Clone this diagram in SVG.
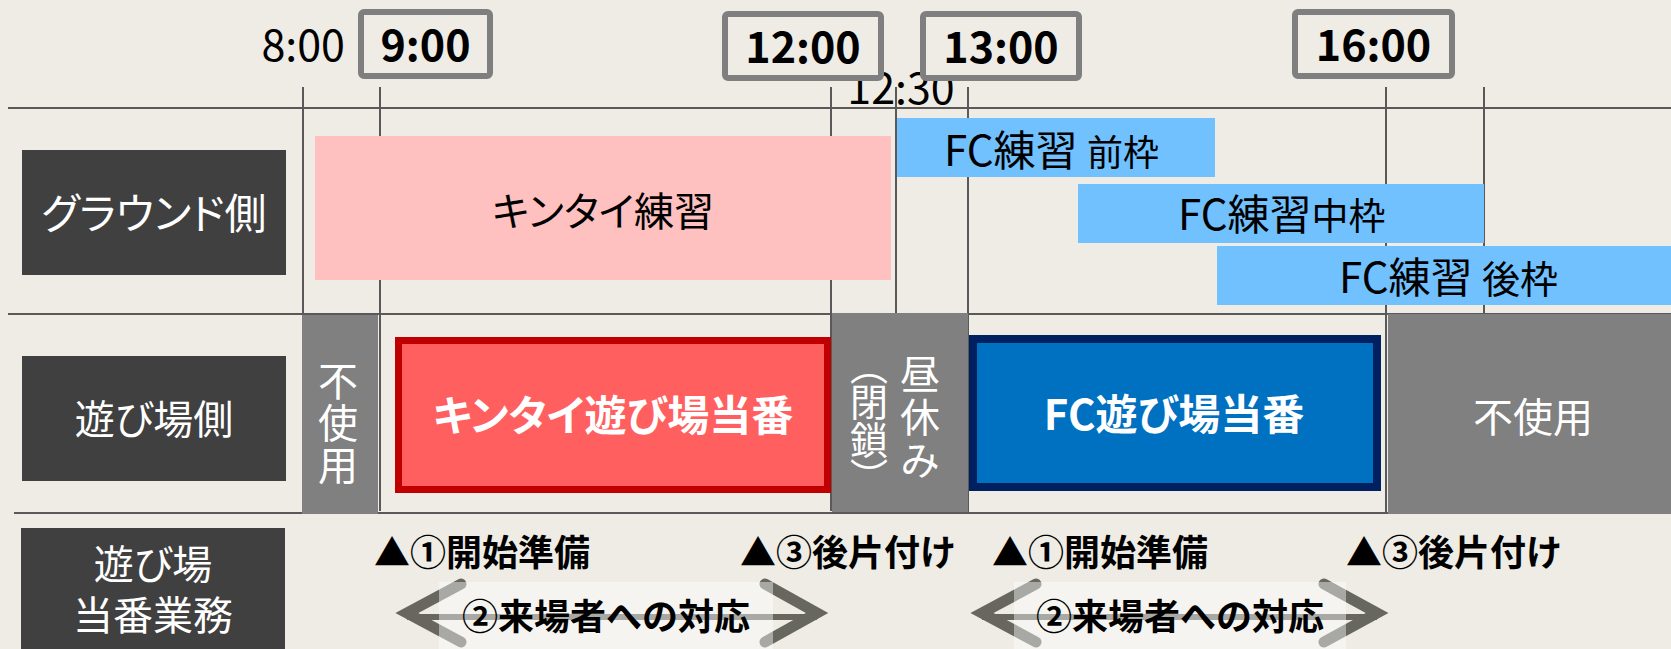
<svg xmlns="http://www.w3.org/2000/svg" width="1671" height="649" viewBox="0 0 1671 649">
<defs>
<style>
.t{font-family:"Noto Sans CJK JP","Noto Sans",sans-serif;}
.p{font-feature-settings:"palt";}
.v{writing-mode:vertical-rl;text-orientation:mixed;}
.vp{font-feature-settings:"vpal";}
.b{font-weight:700;}
.w{fill:#ffffff;}
.k{fill:#000000;}
.grid{stroke:#595959;stroke-width:2;fill:none;}
.tbox{fill:#EEECE4;stroke:#7F7F7F;stroke-width:6;}
.lab{fill:#404040;}
.gry{fill:#808080;}
.fc{fill:#71C1FF;}
.chev{fill:none;stroke:#676760;stroke-width:11;stroke-linecap:round;stroke-linejoin:miter;}
.shaft{stroke:#676760;stroke-width:6;}
.veil{fill:#ffffff;fill-opacity:0.43;}
</style>
</defs>
<rect x="0" y="0" width="1671" height="649" fill="#EEECE4"/>

<g id="grid">
<path class="grid" d="M8,108H1671M8,314H1671M14,513H1388"/>
<path class="grid" d="M303,87V315M380,87V511M831,87V511M896,87V313M968,87V512M1386,87V513M1484,87V313"/>
</g>

<g id="time-labels">
<text class="t k" x="345" y="61" font-size="43" text-anchor="end">8:00</text>
<text class="t k" x="901" y="104" font-size="43" text-anchor="middle">12:30</text>
<g id="t900"><rect class="tbox" x="361" y="12" width="129" height="64" rx="3"/><text class="t b k" x="425.5" y="61" font-size="43" text-anchor="middle">9:00</text></g>
<g id="t1200"><rect class="tbox" x="725" y="14" width="156" height="64" rx="3"/><text class="t b k" x="803" y="63" font-size="43" text-anchor="middle">12:00</text></g>
<g id="t1300"><rect class="tbox" x="923" y="14" width="156" height="64" rx="3"/><text class="t b k" x="1001" y="63" font-size="43" text-anchor="middle">13:00</text></g>
<g id="t1600"><rect class="tbox" x="1295" y="12" width="157" height="64" rx="3"/><text class="t b k" x="1373.5" y="61" font-size="43" text-anchor="middle">16:00</text></g>
</g>

<g id="row-labels">
<g id="lab-ground"><rect class="lab" x="22" y="150" width="264" height="125"/><text class="t p w" x="154" y="229" font-size="42" text-anchor="middle">グラウンド側</text></g>
<g id="lab-play"><rect class="lab" x="22" y="356" width="264" height="125"/><text class="t p w" x="154" y="434" font-size="40" text-anchor="middle">遊び場側</text></g>
<g id="lab-duty"><rect class="lab" x="21" y="528" width="264" height="130"/><text class="t p w" font-size="40" text-anchor="middle"><tspan x="153" y="579">遊び場</tspan><tspan x="153" y="630">当番業務</tspan></text></g>
</g>

<g id="ground">
<g id="kintai-practice"><rect x="315" y="136" width="576" height="144" fill="#FFC0C0"/><text class="t p k" x="603" y="226" font-size="40" text-anchor="middle">キンタイ練習</text></g>
<g id="fc-front"><rect class="fc" x="897" y="118" width="318" height="59"/><text class="t k" x="944" y="166" font-size="42">FC練習 <tspan font-size="36">前枠</tspan></text></g>
<g id="fc-mid"><rect class="fc" x="1078" y="184" width="406" height="59"/><text class="t k" x="1178" y="230" font-size="42">FC練習<tspan font-size="37">中枠</tspan></text></g>
<g id="fc-back"><rect class="fc" x="1217" y="246" width="454" height="59"/><text class="t k" x="1339" y="293" font-size="42">FC練習 <tspan font-size="38">後枠</tspan></text></g>
</g>

<g id="play">
<g id="unused-left"><rect class="gry" x="302" y="315" width="76" height="199"/>
<text class="t v w" x="338" y="424" font-size="40" letter-spacing="2" text-anchor="middle">不使用</text></g>
<g id="kintai-duty"><rect x="398.5" y="340.5" width="429" height="149" fill="#FF5F5F" stroke="#C00000" stroke-width="7"/><text class="t p b w" x="613" y="431" font-size="42" text-anchor="middle">キンタイ遊び場当番</text></g>
<g id="lunch"><rect class="gry" x="832" y="313" width="136" height="199"/>
<text class="t v w" x="920" y="418" font-size="40" letter-spacing="3" text-anchor="middle">昼休み</text>
<text class="t v vp w" x="869" y="421" font-size="38" text-anchor="middle">（閉鎖）</text></g>
<g id="fc-duty"><rect x="973" y="339" width="404" height="148" fill="#0070C0" stroke="#002060" stroke-width="8"/><text class="t p b w" x="1174" y="430" font-size="42" text-anchor="middle">FC遊び場当番</text></g>
<g id="unused-right"><rect class="gry" x="1388" y="314" width="283" height="200"/><text class="t w" x="1533" y="432" font-size="40" text-anchor="middle">不使用</text></g>
</g>

<g id="duty-tasks">
<text class="t b k" x="374" y="566" font-size="36">▲①開始準備</text>
<text class="t b k" x="740" y="566" font-size="36">▲③後片付け</text>
<text class="t b k" x="992" y="566" font-size="36">▲①開始準備</text>
<text class="t b k" x="1346" y="566" font-size="36">▲③後片付け</text>
</g>

<g id="connectors">
<g id="arrow-kintai">
<line class="shaft" x1="407" y1="617" x2="817" y2="617"/>
<polyline class="chev" points="461,584 407,613 461,642"/>
<polyline class="chev" points="765,584 817,613 765,642"/>
<rect class="veil" x="439" y="582" width="334" height="70"/>
<text class="t b k" x="606" y="630" font-size="36" text-anchor="middle">②来場者への対応</text>
</g>
<g id="arrow-fc">
<line class="shaft" x1="982" y1="617" x2="1377" y2="617"/>
<polyline class="chev" points="1036,584 982,613 1036,642"/>
<polyline class="chev" points="1324,584 1377,613 1324,642"/>
<rect class="veil" x="1014" y="582" width="332" height="70"/>
<text class="t b k" x="1180" y="630" font-size="36" text-anchor="middle">②来場者への対応</text>
</g>
</g>
</svg>
